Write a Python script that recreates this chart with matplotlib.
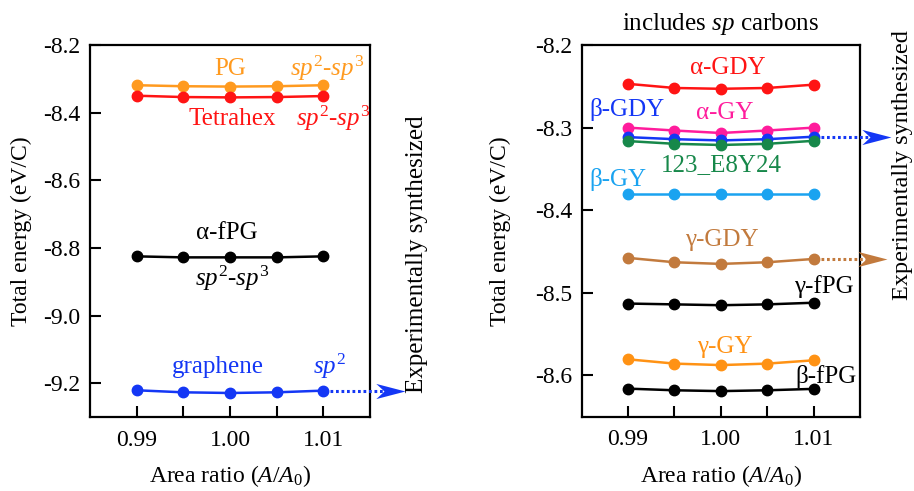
import matplotlib
matplotlib.use("Agg")
import matplotlib.pyplot as plt
from matplotlib.ticker import FixedLocator
from matplotlib.path import Path

plt.rcParams["font.family"] = ["Liberation Serif", "DejaVu Serif"]
plt.rcParams["mathtext.fontset"] = "custom"
plt.rcParams["mathtext.rm"] = "Liberation Serif"
plt.rcParams["mathtext.it"] = "Liberation Serif:italic"
plt.rcParams["mathtext.bf"] = "Liberation Serif:bold"

# Area ratio A/A0
ratio = [0.990, 0.995, 1.000, 1.005, 1.010]

# Left panel: sp2 / sp2-sp3 carbon allotropes (eV/C)
pg = [-8.319, -8.322, -8.323, -8.322, -8.319]
tetrahex = [-8.350, -8.354, -8.355, -8.354, -8.351]
alpha_fpg = [-8.825, -8.828, -8.828, -8.828, -8.825]
graphene = [-9.221, -9.227, -9.229, -9.227, -9.222]

# Right panel: structures containing sp carbons (eV/C)
alpha_gdy = [-8.247, -8.252, -8.253, -8.252, -8.248]
alpha_gy = [-8.300, -8.3035, -8.3065, -8.3035, -8.300]
beta_gdy = [-8.3115, -8.314, -8.3155, -8.314, -8.311]
e8y24 = [-8.3163, -8.3196, -8.321, -8.3196, -8.316]
beta_gy = [-8.380, -8.380, -8.380, -8.380, -8.380]
gamma_gdy = [-8.4577, -8.463, -8.465, -8.463, -8.459]
gamma_fpg = [-8.513, -8.514, -8.515, -8.514, -8.512]
gamma_gy = [-8.5805, -8.5857, -8.5875, -8.5857, -8.5817]
beta_fpg = [-8.616, -8.618, -8.619, -8.618, -8.6163]

xticks = [0.99, 1.00, 1.01]
xtick_labels = ["0.99", "1.00", "1.01"]
left_yticks = [-9.2, -9.0, -8.8, -8.6, -8.4, -8.2]
right_yticks = [-8.6, -8.5, -8.4, -8.3, -8.2]

ORANGE = "#ff9a1f"
RED = "#ff1414"
BLUE = "#1437f5"
PINK = "#ff1c9c"
GREEN = "#17884a"
LIGHTBLUE = "#1aa3f0"
BROWN = "#c27a3d"
GAMMA_ORANGE = "#ff9214"
BLACK = "black"

FS_TICK = 17
FS_LAB = 17
FS_TXT = 18

XLIM = (0.985, 1.015)

# notched arrowhead, tip at the origin
HEAD = Path([(0, 0), (-1, 0.26), (-0.72, 0), (-1, -0.26), (0, 0)],
            [Path.MOVETO, Path.LINETO, Path.LINETO, Path.LINETO, Path.CLOSEPOLY])

fig = plt.figure(figsize=(9.14, 4.91), dpi=100)
axL = fig.add_axes([0.0985, 0.1507, 0.3063, 0.7577])
axR = fig.add_axes([0.6364, 0.1513, 0.3045, 0.7570])


def style_axes(ax, ylim, yticks, ylabelpad):
    ax.set_xlim(*XLIM)
    ax.set_ylim(*ylim)
    ax.xaxis.set_major_locator(FixedLocator(xticks))
    ax.set_xticklabels(xtick_labels)
    ax.xaxis.set_minor_locator(FixedLocator([0.995, 1.005]))
    ax.set_yticks(yticks)
    ax.set_yticklabels([f"{t:.1f}" for t in yticks])
    ax.tick_params(which="both", direction="in", length=8, width=1.5,
                   top=False, right=False, labelsize=FS_TICK, pad=7)
    ax.tick_params(axis="x", which="both", pad=9)
    for s in ax.spines.values():
        s.set_linewidth(1.6)
    ax.set_xlabel("Area ratio ($A/A_0$)", fontsize=FS_LAB, labelpad=9)
    ax.set_ylabel("Total energy (eV/C)", fontsize=FS_LAB, labelpad=ylabelpad)


def curve(ax, y, color):
    ax.plot(ratio, y, "-o", color=color, lw=1.8, ms=7.5, clip_on=False, zorder=3)


def arrow(ax, y, color, xend):
    # dotted shaft from the last point to a notched head outside the axes
    tr = ax.get_yaxis_transform()
    x0 = (ratio[-1] - XLIM[0]) / (XLIM[1] - XLIM[0]) + 0.025
    ax.plot([x0, xend - 0.04], [y, y], transform=tr, color=color, lw=2.2,
            linestyle=(0, (0.9, 0.9)), clip_on=False, zorder=3)
    ax.plot([xend], [y], transform=tr, marker=HEAD, ms=42, color=color,
            mec=color, mew=0, linestyle="none", clip_on=False, zorder=4)


# ---- left panel ----
style_axes(axL, (-9.3, -8.2), left_yticks, 8)
curve(axL, pg, ORANGE)
curve(axL, tetrahex, RED)
curve(axL, alpha_fpg, BLACK)
curve(axL, graphene, BLUE)

axL.text(1.0, -8.271, "PG", color=ORANGE, fontsize=FS_TXT, ha="center", va="center")
axL.text(1.0104, -8.268, "$sp^2$-$sp^3$", color=ORANGE, fontsize=FS_TXT, ha="center", va="center")
axL.text(1.0002, -8.420, "Tetrahex", color=RED, fontsize=FS_TXT, ha="center", va="center")
axL.text(1.0110, -8.417, "$sp^2$-$sp^3$", color=RED, fontsize=FS_TXT, ha="center", va="center")
axL.text(0.9997, -8.755, "α-fPG", color=BLACK, fontsize=FS_TXT, ha="center", va="center")
axL.text(1.0002, -8.891, "$sp^2$-$sp^3$", color=BLACK, fontsize=FS_TXT, ha="center", va="center")
axL.text(0.9987, -9.153, "graphene", color=BLUE, fontsize=FS_TXT, ha="center", va="center")
axL.text(1.0107, -9.150, "$sp^2$", color=BLUE, fontsize=FS_TXT, ha="center", va="center")
arrow(axL, graphene[-1], BLUE, 1.125)

fig.text(0.456, 0.483, "Experimentally synthesized", rotation=90,
         fontsize=FS_TXT, ha="center", va="center")

# ---- right panel ----
style_axes(axR, (-8.65, -8.2), right_yticks, 17)
curve(axR, alpha_gdy, RED)
curve(axR, alpha_gy, PINK)
curve(axR, beta_gdy, BLUE)
curve(axR, e8y24, GREEN)
curve(axR, beta_gy, LIGHTBLUE)
curve(axR, gamma_gdy, BROWN)
curve(axR, gamma_fpg, BLACK)
curve(axR, gamma_gy, GAMMA_ORANGE)
curve(axR, beta_fpg, BLACK)

axR.text(1.0007, -8.228, "α-GDY", color=RED, fontsize=FS_TXT, ha="center", va="center")
axR.text(0.9899, -8.2785, "β-GDY", color=BLUE, fontsize=FS_TXT, ha="center", va="center")
axR.text(1.0004, -8.282, "α-GY", color=PINK, fontsize=FS_TXT, ha="center", va="center")
axR.text(1.0001, -8.345, "123_E8Y24", color=GREEN, fontsize=FS_TXT, ha="center", va="center")
axR.text(0.9889, -8.363, "β-GY", color=LIGHTBLUE, fontsize=FS_TXT, ha="center", va="center")
axR.text(1.0001, -8.4355, "γ-GDY", color=BROWN, fontsize=FS_TXT, ha="center", va="center")
axR.text(1.0111, -8.492, "γ-fPG", color=BLACK, fontsize=FS_TXT, ha="center", va="center")
axR.text(1.0004, -8.566, "γ-GY", color=GAMMA_ORANGE, fontsize=FS_TXT, ha="center", va="center")
axR.text(1.0113, -8.601, "β-fPG", color=BLACK, fontsize=FS_TXT, ha="center", va="center")
axR.set_title("includes $sp$ carbons", fontsize=FS_TXT, pad=11)

arrow(axR, beta_gdy[-1], BLUE, 1.113)
arrow(axR, gamma_gdy[-1], BROWN, 1.098)

fig.text(0.9875, 0.664, "Experimentally synthesized", rotation=90,
         fontsize=17.5, ha="center", va="center")

fig.savefig("out.png", dpi=100)
